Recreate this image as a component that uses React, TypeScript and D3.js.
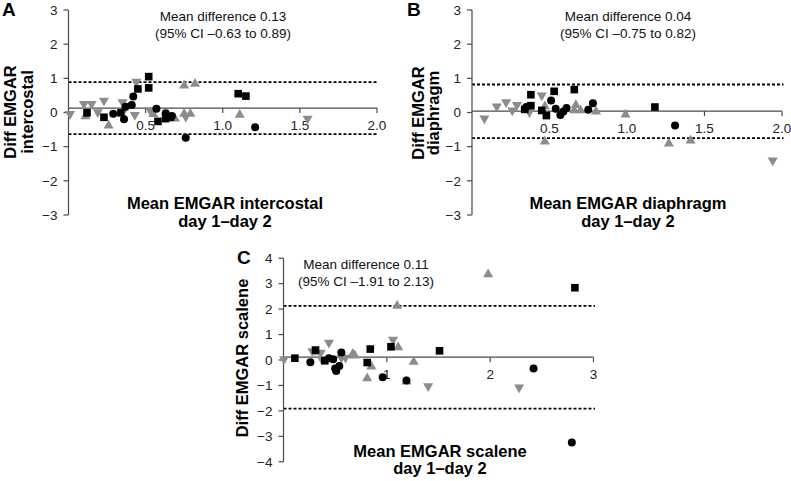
import React from 'react';
import * as d3 from 'd3';

type Pt = [number, number];

// Panel A – intercostal (mean EMGAR, diff EMGAR)
const aSquares: Pt[] = [[0.12, -0.01], [0.23, -0.14], [0.34, -0.01], [0.45, 0.69], [0.52, 1.05], [0.52, 0.72], [0.58, -0.26], [0.63, -0.18], [0.66, -0.14], [1.10, 0.55], [1.15, 0.48]];
const aCircles: Pt[] = [[0.29, -0.04], [0.36, -0.20], [0.37, 0.17], [0.41, 0.22], [0.42, 0.47], [0.57, 0.11], [0.63, -0.02], [0.67, -0.10], [0.76, -0.74], [1.21, -0.43]];
const aDown: Pt[] = [[0.01, -0.04], [0.10, 0.25], [0.15, 0.25], [0.19, 0.01], [0.23, 0.35], [0.35, 0.30], [0.37, 0.14], [0.43, -0.07], [0.44, 0.90], [0.53, 0.06], [0.76, -0.12], [1.55, -0.18]];
const aUp: Pt[] = [[0.11, -0.11], [0.26, -0.38], [0.55, -0.05], [0.69, -0.18], [0.75, 0.79], [0.82, 0.84], [0.75, -0.04], [0.79, -0.04], [1.11, -0.07]];
const aStats = { mean: 0.13, lower: -0.63, upper: 0.89 };

// Panel B – diaphragm
const bSquares: Pt[] = [[0.34, 0.09], [0.38, 0.52], [0.38, 0.20], [0.45, 0.06], [0.48, -0.09], [0.53, 0.62], [0.66, 0.67], [1.18, 0.16]];
const bCircles: Pt[] = [[0.35, 0.16], [0.51, 0.35], [0.54, 0.11], [0.57, -0.07], [0.59, 0.03], [0.61, 0.13], [0.75, 0.08], [0.78, 0.27], [1.31, -0.38]];
const bDown: Pt[] = [[0.08, -0.17], [0.16, 0.18], [0.22, 0.30], [0.26, 0.06], [0.29, 0.22], [0.37, 0.01], [0.45, 0.50], [1.94, -1.40]];
const bUp: Pt[] = [[0.47, 0.18], [0.47, -0.85], [0.67, 0.22], [0.66, 0.06], [0.70, 0.06], [0.80, 0.03], [0.99, -0.06], [1.27, -0.91], [1.41, -0.82]];
const bStats = { mean: 0.04, lower: -0.75, upper: 0.82 };

// Panel C – scalene
const cSquares: Pt[] = [[0.11, 0.07], [0.31, 0.39], [0.40, -0.03], [0.81, -0.10], [0.84, 0.43], [1.04, 0.52], [1.51, 0.36], [2.82, 2.84]];
const cCircles: Pt[] = [[0.26, -0.09], [0.44, 0.07], [0.48, 0.03], [0.50, -0.33], [0.51, -0.43], [0.54, -0.24], [0.56, 0.29], [0.96, -0.68], [1.19, -0.81], [2.42, -0.33], [2.79, -3.24]];
const cDown: Pt[] = [[0.005, 0.03], [0.28, 0.35], [0.36, 0.29], [0.44, 0.68], [0.37, 0.03], [0.56, 0.09], [0.60, 0.09], [1.06, 0.80], [1.40, -1.03], [2.28, -1.08]];
const cUp: Pt[] = [[0.32, 0.30], [0.67, 0.24], [0.69, 0.17], [0.81, -0.72], [0.85, -0.26], [1.10, 2.13], [1.11, 0.50], [1.19, -0.85], [1.26, -0.07], [1.98, 3.37]];
const cStats = { mean: 0.11, lower: -1.91, upper: 2.13 };

const abXTicks = [0.5, 1.0, 1.5, 2.0];
const abYTicks = [-3, -2, -1, 0, 1, 2, 3];
const cXTicks = [1, 2, 3];
const cYTicks = [-4, -3, -2, -1, 0, 1, 2, 3, 4];

const FONT = 'Liberation Sans, Arial, Helvetica, sans-serif';
const GRAY = '#8c8c8c';
const AXIS = '#4a4a4a';

const triUp = d3.symbol(d3.symbolTriangle, 44)()!;

interface PanelProps {
  letter: string;
  letterPos: [number, number];
  xDomain: [number, number];
  xRange: [number, number];
  yDomain: [number, number];
  yRange: [number, number];
  xTicks: number[];
  xFmt: string;
  yTicks: number[];
  stats: { mean: number; lower: number; upper: number };
  squares: Pt[];
  circles: Pt[];
  down: Pt[];
  up: Pt[];
  noteX: number;
  noteY: [number, number];
  yTitle: string[];
  yTitleX: number[];
  yTitleY: number;
  xTitle: string[];
  xTitleX: number;
  xTitleY: number[];
}

const Panel: React.FC<PanelProps> = (p) => {
  const x = d3.scaleLinear().domain(p.xDomain).range(p.xRange);
  const y = d3.scaleLinear().domain(p.yDomain).range(p.yRange);
  const fmt = d3.format(p.xFmt);
  const x0 = p.xRange[0];
  const x1 = p.xRange[1];
  const ym = y(p.stats.mean);
  const dashEnd = x1 + 1.5;

  return (
    <g fontFamily={FONT}>
      <text x={p.letterPos[0]} y={p.letterPos[1]} fontSize={19} fontWeight="bold">{p.letter}</text>

      {/* limits of agreement */}
      {[p.stats.lower, p.stats.upper].map((v, i) => (
        <line key={i} x1={x0} x2={dashEnd} y1={y(v)} y2={y(v)} stroke="#000" strokeWidth={1.8} strokeDasharray="3,2" />
      ))}

      {/* y axis */}
      <line x1={x0} x2={x0} y1={y(p.yDomain[0])} y2={y(p.yDomain[1])} stroke={AXIS} strokeWidth={1.2} />
      {p.yTicks.map(t => (
        <g key={t} transform={`translate(${x0},${y(t)})`}>
          <line x1={-5} x2={0} stroke={AXIS} strokeWidth={1.2} />
          <text x={-11} dy="0.35em" textAnchor="end" fontSize={13.5} fill="#222">{d3.format('')(t)}</text>
        </g>
      ))}

      {/* x axis at mean difference */}
      <line x1={x0} x2={x1} y1={ym} y2={ym} stroke={AXIS} strokeWidth={1.2} />
      {p.xTicks.map(t => (
        <g key={t} transform={`translate(${x(t)},${ym})`}>
          <line y1={0} y2={5} stroke={AXIS} strokeWidth={1.2} />
          <text y={21.5} textAnchor="middle" fontSize={13.5} fill="#222">{fmt(t)}</text>
        </g>
      ))}

      {/* points */}
      {p.up.map((d, i) => (
        <path key={'u' + i} d={triUp} transform={`translate(${x(d[0])},${y(d[1])})`} fill={GRAY} />
      ))}
      {p.down.map((d, i) => (
        <path key={'d' + i} d={triUp} transform={`translate(${x(d[0])},${y(d[1])}) rotate(180)`} fill={GRAY} />
      ))}
      {p.squares.map((d, i) => (
        <rect key={'s' + i} x={x(d[0]) - 3.8} y={y(d[1]) - 3.8} width={7.6} height={7.6} fill="#000" />
      ))}
      {p.circles.map((d, i) => (
        <circle key={'c' + i} cx={x(d[0])} cy={y(d[1])} r={4} fill="#000" />
      ))}

      {/* annotation */}
      <text x={p.noteX} y={p.noteY[0]} textAnchor="middle" fontSize={13.5} fill="#111">
        {`Mean difference ${p.stats.mean.toFixed(2)}`}
      </text>
      <text x={p.noteX} y={p.noteY[1]} textAnchor="middle" fontSize={13.5} fill="#111">
        {`(95% CI \u2013${Math.abs(p.stats.lower).toFixed(2)} to ${p.stats.upper.toFixed(2)})`}
      </text>

      {/* axis titles */}
      {p.yTitle.map((s, i) => (
        <text key={s} transform={`translate(${p.yTitleX[i]},${p.yTitleY}) rotate(-90)`} textAnchor="middle"
          fontSize={16.5} fontWeight="bold">{s}</text>
      ))}
      {p.xTitle.map((s, i) => (
        <text key={s} x={p.xTitleX} y={p.xTitleY[i]} textAnchor="middle" fontSize={16.5} fontWeight="bold">{s}</text>
      ))}
    </g>
  );
};

export default function App() {
  return (
    <div style={{ position: 'absolute', left: 0, top: 0 }}>
      <svg width={791} height={481} style={{ display: 'block', background: '#fff' }}>
        <Panel
          letter="A" letterPos={[2, 16]}
          xDomain={[0, 2]} xRange={[68.5, 377]} yDomain={[-3, 3]} yRange={[215, 10]}
          xTicks={abXTicks} xFmt=".1f" yTicks={abYTicks} stats={aStats}
          squares={aSquares} circles={aCircles} down={aDown} up={aUp}
          noteX={223} noteY={[21, 38]}
          yTitle={['Diff EMGAR', 'intercostal']} yTitleX={[16, 33]} yTitleY={112}
          xTitle={['Mean EMGAR intercostal', 'day 1\u2013day 2']} xTitleX={225} xTitleY={[208.5, 227]}
        />
        <Panel
          letter="B" letterPos={[407, 16]}
          xDomain={[0, 2]} xRange={[472, 782]} yDomain={[-3, 3]} yRange={[215, 10]}
          xTicks={abXTicks} xFmt=".1f" yTicks={abYTicks} stats={bStats}
          squares={bSquares} circles={bCircles} down={bDown} up={bUp}
          noteX={628} noteY={[21, 38]}
          yTitle={['Diff EMGAR', 'diaphragm']} yTitleX={[424, 439]} yTitleY={113}
          xTitle={['Mean EMGAR diaphragm', 'day 1\u2013day 2']} xTitleX={628} xTitleY={[208.5, 227]}
        />
        <Panel
          letter="C" letterPos={[237, 264]}
          xDomain={[0, 3]} xRange={[283.5, 593.5]} yDomain={[-4, 4]} yRange={[461.8, 258.2]}
          xTicks={cXTicks} xFmt="d" yTicks={cYTicks} stats={cStats}
          squares={cSquares} circles={cCircles} down={cDown} up={cUp}
          noteX={366} noteY={[269, 286]}
          yTitle={['Diff EMGAR scalene']} yTitleX={[248]} yTitleY={358}
          xTitle={['Mean EMGAR scalene', 'day 1\u2013day 2']} xTitleX={440} xTitleY={[457, 474]}
        />
      </svg>
    </div>
  );
}
